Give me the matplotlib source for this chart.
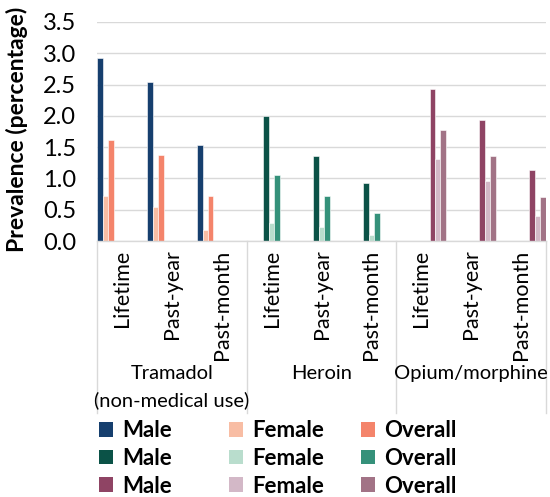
import matplotlib
matplotlib.use("Agg")
import matplotlib.pyplot as plt
import matplotlib.transforms as mtransforms
from matplotlib.patches import Patch

plt.rcParams['font.family'] = ['Lato', 'DejaVu Sans']

drug_line1 = ["Tramadol", "Heroin", "Opium/morphine"]
drug_line2 = ["(non-medical use)", "", ""]
periods = ["Lifetime", "Past-year", "Past-month"]
sexes = ["Male", "Female", "Overall"]

# values per drug, per period
male = [[2.93, 2.54, 1.53], [2.00, 1.36, 0.93], [2.43, 1.93, 1.14]]
female = [[0.72, 0.55, 0.18], [0.29, 0.22, 0.09], [1.31, 0.96, 0.40]]
overall = [[1.62, 1.38, 0.72], [1.05, 0.72, 0.44], [1.77, 1.36, 0.70]]

colors = [
    ["#163f6e", "#f8bda4", "#f4846b"],
    ["#0b5247", "#b9ddcd", "#35917a"],
    ["#8f4464", "#d3b8c7", "#a27386"],
]

W, H = 550, 497
fig = plt.figure(figsize=(W / 100, H / 100), dpi=100)
ax = fig.add_axes([97 / W, (H - 241) / H, (546 - 97) / W, (241 - 22) / H])

nser = 9
bw = 1 / (nser + 0.1)
start = 0.05 * bw
values = [male, female, overall]
for d in range(3):
    for s in range(3):
        slot = d * 3 + s
        xs = [d * 3 + p + start + slot * bw for p in range(3)]
        ax.bar(xs, values[s][d], width=bw, align='edge', color=colors[d][s],
               edgecolor='white', linewidth=0.4, zorder=3)

ax.set_xlim(0, 9)
ax.set_ylim(0, 3.5)
ax.set_yticks([i * 0.5 for i in range(8)])
ax.set_yticklabels([f"{i * 0.5:.1f}" for i in range(8)], fontsize=17)
ax.tick_params(axis='y', length=0, pad=15)
ax.grid(axis='y', color='#d9d9d9', linewidth=1.0, zorder=0)
for sp in ['top', 'right', 'left']:
    ax.spines[sp].set_visible(False)
ax.spines['bottom'].set_color('#d9d9d9')
ax.spines['bottom'].set_linewidth(1.0)
ax.spines['bottom'].set_zorder(4)

ax.set_xticks([i + 0.5 for i in range(9)])
ax.set_xticklabels(periods * 3, rotation=90, fontsize=15.5, va='top', ha='center')
ax.tick_params(axis='x', length=0, pad=6)

trans = mtransforms.blended_transform_factory(ax.transData, ax.transAxes)
for gx in [0, 3, 6, 9]:
    ax.plot([gx, gx], [0, -0.785], transform=trans, color='#d9d9d9',
            linewidth=1.0, clip_on=False)
for d in range(3):
    ax.text(d * 3 + 1.5, -0.605, drug_line1[d], transform=trans, ha='center',
            va='center', fontsize=14.5)
    if drug_line2[d]:
        ax.text(d * 3 + 1.5, -0.728, drug_line2[d], transform=trans, ha='center',
                va='center', fontsize=14.5)

ax.set_ylabel("Prevalence (percentage)", fontsize=16.5, fontweight='bold')
ax.yaxis.set_label_coords(-0.154, 0.51)

legend_x = [97, 227, 359]
for s in range(3):
    handles = [Patch(facecolor=colors[d][s], edgecolor='none') for d in range(3)]
    labels = [sexes[s]] * 3
    fig.legend(handles, labels, loc='upper left',
               bbox_to_anchor=(legend_x[s] / W, (H - 418) / H),
               frameon=False, prop={'weight': 'bold', 'size': 16},
               handlelength=0.64, handleheight=0.64, handletextpad=0.38,
               labelspacing=0.30, borderaxespad=0, borderpad=0.1)

fig.savefig("out.png", dpi=100)
